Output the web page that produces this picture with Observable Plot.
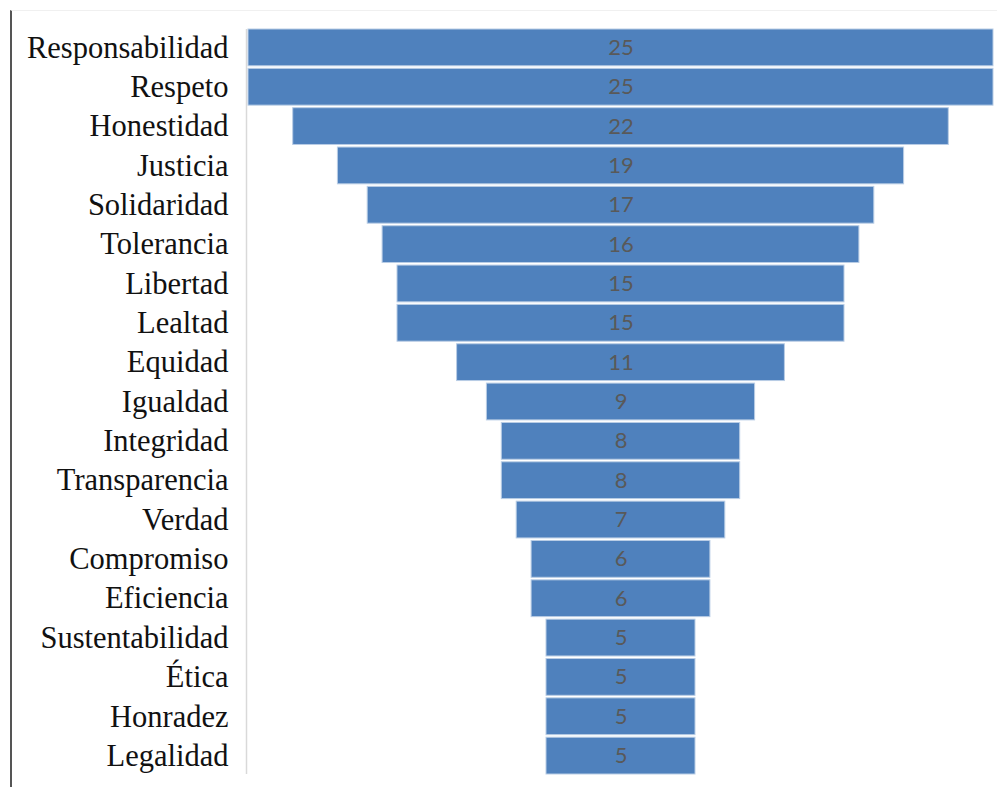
<!DOCTYPE html>
<html>
<head>
<meta charset="utf-8">
<script src="https://cdn.jsdelivr.net/npm/d3@7"></script>
<script src="https://cdn.jsdelivr.net/npm/@observablehq/plot@0.6"></script>
<style>
  html, body { margin: 0; padding: 0; background: #fff; }
  #wrap { position: relative; width: 997px; height: 787px; overflow: hidden; }
  #frame { position: absolute; left: 10px; top: 10px; width: 990px; height: 780px;
           border-left: 2px solid #555; border-top: 1px solid #f0f0f0; box-sizing: border-box; }
  #chart { position: absolute; left: 0; top: 0; }
</style>
</head>
<body>
<div id="wrap"><div id="frame"></div><div id="chart"></div></div>
<script>
const categories = ["Responsabilidad","Respeto","Honestidad","Justicia","Solidaridad","Tolerancia","Libertad","Lealtad","Equidad","Igualdad","Integridad","Transparencia","Verdad","Compromiso","Eficiencia","Sustentabilidad","Ética","Honradez","Legalidad"];
const values = [25,25,22,19,17,16,15,15,11,9,8,8,7,6,6,5,5,5,5];

const maxV = d3.max(values);
const data = categories.map((c, i) => ({cat: c, v: values[i]}));

const chart = Plot.plot({
  width: 997,
  height: 787,
  marginLeft: 248,
  marginRight: 4,
  marginTop: 29,
  marginBottom: 13,
  style: {background: "transparent"},
  x: {domain: [-maxV / 2, maxV / 2], axis: null},
  y: {domain: categories, paddingInner: 0.065, paddingOuter: 0.0, round: false, label: null},
  marks: [
    Plot.ruleX([-maxV / 2], {dx: -2, stroke: "#d9d9d9", strokeWidth: 1.5, insetTop: 0}),
    Plot.barX(data, {y: "cat", x1: d => -d.v / 2, x2: d => d.v / 2, fill: "#4F81BD", stroke: "#b9cde5", strokeWidth: 1}),
    Plot.text(data, {y: "cat", x: 0, text: d => String(d.v), fill: "#595959", fontSize: 22, fontFamily: "Lato, sans-serif"}),
    Plot.axisY({tickSize: 0, tickPadding: 20, fontSize: 30.5, fontFamily: "'Liberation Serif', serif", color: "#111", label: null})
  ]
});
chart.querySelectorAll("g[aria-label='y-axis tick label'] text, g[aria-label='y-axis tick label']").forEach(el => {
  el.setAttribute("fill", "#111");
});
document.getElementById("chart").appendChild(chart);
</script>
</body>
</html>
